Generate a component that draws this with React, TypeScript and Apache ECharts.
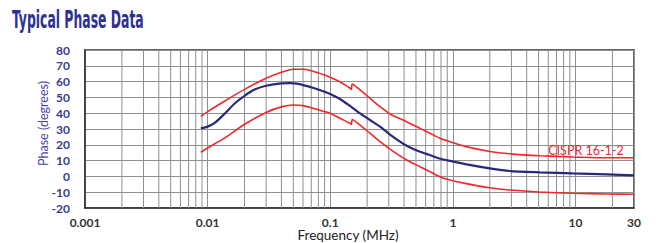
import React, { useEffect, useRef } from "react";
import * as echarts from "echarts";

// Frequencies (MHz) at which the CISPR limit curves were read
const redFreq = [0.0088, 0.01, 0.0139, 0.02, 0.03, 0.04, 0.05, 0.06, 0.07, 0.09, 0.1, 0.12, 0.145, 0.149, 0.151, 0.175, 0.211, 0.255, 0.307, 0.42, 0.54, 0.65, 0.79, 0.95, 1.26, 2.0, 2.9, 5.1, 9.5, 18, 30];
const upperLimit = [38, 41, 47.9, 55.1, 62.1, 65.9, 67.8, 67.8, 66.9, 64.2, 62.7, 59.9, 55.8, 55, 58.5, 54.7, 49.4, 44.1, 39.5, 34.6, 30.4, 27.3, 24, 22, 19, 15.8, 14.3, 13.1, 12.3, 11.8, 11.8];
const lowerLimit = [15.3, 18, 24.5, 33, 40.5, 44, 45.2, 44.8, 43.5, 41, 40, 36.8, 33.6, 33, 36, 32.5, 27.3, 22, 17.3, 10.4, 6.1, 3, -0.4, -2.3, -4.4, -7.2, -8.6, -9.9, -10.7, -11.1, -11.3];

// Typical phase curve
const phaseFreq = [0.0088, 0.01, 0.0115, 0.0139, 0.0167, 0.02, 0.0244, 0.03, 0.04, 0.047, 0.055, 0.06, 0.07, 0.09, 0.1, 0.12, 0.145, 0.175, 0.211, 0.255, 0.307, 0.42, 0.54, 0.65, 0.79, 0.95, 1.26, 2.0, 2.9, 5.1, 9.5, 18, 30];
const phaseValues = [30.4, 31.5, 34, 40, 46.3, 51, 55.1, 57.4, 58.9, 59, 58.6, 57.8, 56.4, 53.6, 52.2, 49, 44.6, 39.9, 35.7, 31.5, 26.5, 19.4, 15.6, 13.5, 11.2, 9.8, 7.8, 5.1, 3.4, 2.6, 1.9, 1.3, 0.7];

// Axis ticks
const xTickLabels = ["0.001", "0.01", "0.1", "1", "10", "30"];
const minorGridX = [0.002, 0.003, 0.004, 0.005, 0.006, 0.007, 0.008, 0.009, 0.02, 0.03, 0.04, 0.05, 0.06, 0.07, 0.08, 0.09, 0.2, 0.3, 0.4, 0.5, 0.6, 0.7, 0.8, 0.9, 2, 3, 4, 5, 6, 7, 8, 9, 20];
const yMin = -20;
const yMax = 80;

const titleText = "Typical Phase Data";
const yName = "Phase (degrees)";
const xName = "Frequency (MHz)";
const limitLabel = "CISPR 16-1-2";

const zip = (xs: number[], ys: number[]) => xs.map((x, i) => [x, ys[i]]);

export default function App() {
  const ref = useRef<HTMLDivElement>(null);
  useEffect(() => {
    if (!ref.current) return;
    const chart = echarts.init(ref.current, undefined, { renderer: "svg" });
    const gridColor = "#8f8f8f";
    const red = "#f0282a";
    chart.setOption({
      animation: false,
      backgroundColor: "#ffffff",
      grid: { left: 85, top: 50, right: 22, bottom: 35, show: true, borderColor: "#333", borderWidth: 1.5 },
      xAxis: {
        type: "log",
        logBase: 10,
        min: 0.001,
        max: 30,
        axisLine: { show: true, onZero: false, lineStyle: { color: "#333", width: 1.5 } },
        axisTick: { show: false },
        splitLine: { show: true, lineStyle: { color: gridColor, width: 1 } },
        axisLabel: {
          margin: 8,
          color: "#333",
          fontFamily: "Lato",
          fontSize: 12,
          lineHeight: 12,
          fontWeight: "bold",
          showMaxLabel: true,
          showMinLabel: true,
          formatter: (v: number) => {
            const s = String(+Number(v).toPrecision(6));
            return xTickLabels.includes(s) ? s : "";
          },
        },
      },
      yAxis: {
        type: "value",
        min: yMin,
        max: yMax,
        interval: 10,
        axisLine: { show: true, onZero: false, lineStyle: { color: "#333", width: 1.5 } },
        axisTick: { show: false },
        splitLine: { show: true, lineStyle: { color: gridColor, width: 1 } },
        axisLabel: { margin: 15, color: "#3b3b91", fontFamily: "Lato", fontSize: 12, fontWeight: "bold" },
      },
      series: [
        {
          name: "upper",
          type: "line",
          z: 3,
          smooth: 0.2,
          data: zip(redFreq, upperLimit),
          showSymbol: false,
          lineStyle: { color: red, width: 1.6 },
        },
        {
          name: "lower",
          type: "line",
          z: 3,
          smooth: 0.2,
          data: zip(redFreq, lowerLimit),
          showSymbol: false,
          lineStyle: { color: red, width: 1.6 },
        },
        {
          name: "phase",
          type: "line",
          z: 4,
          smooth: 0.2,
          data: zip(phaseFreq, phaseValues),
          showSymbol: false,
          lineStyle: { color: "#262a78", width: 2.2 },
        },
      ],
    });

    // minor (2..9) vertical grid lines, positioned through the log axis scale
    const yTop = chart.convertToPixel({ yAxisIndex: 0 }, yMax) as number;
    const yBottom = chart.convertToPixel({ yAxisIndex: 0 }, yMin) as number;
    const minorLines = minorGridX.map((f) => {
      const px = chart.convertToPixel({ xAxisIndex: 0 }, f) as number;
      return {
        type: "line",
        z: 1,
        silent: true,
        shape: { x1: px, y1: yTop, x2: px, y2: yBottom },
        style: { stroke: gridColor, lineWidth: 1 },
      };
    });

    chart.setOption({
      graphic: [
        ...minorLines,
        {
          type: "text",
          x: 12,
          y: 20.5,
          scaleX: 0.575,
          style: {
            text: titleText,
            fontFamily: "Liberation Sans Narrow, DejaVu Sans Condensed, sans-serif",
            fontWeight: "bold",
            fontSize: 24,
            fill: "#2e3192",
            textAlign: "left",
            textVerticalAlign: "middle",
          },
        },
        {
          type: "text",
          x: 43.5,
          y: 123.5,
          rotation: Math.PI / 2,
          style: {
            text: yName,
            fontFamily: "Lato",
            fontSize: 12.5,
            fill: "#4a46a8",
            textAlign: "center",
            textVerticalAlign: "middle",
          },
        },
        {
          type: "text",
          x: 348,
          y: 234.5,
          style: {
            text: xName,
            fontFamily: "Lato",
            fontSize: 13.5,
            lineHeight: 12,
            fill: "#222",
            textAlign: "center",
            textVerticalAlign: "middle",
          },
        },
        {
          type: "text",
          x: 586,
          y: 150,
          style: {
            text: limitLabel,
            fontFamily: "Lato",
            fontSize: 12.5,
            fill: red,
            textAlign: "center",
            textVerticalAlign: "middle",
          },
        },
      ],
    });
    return () => chart.dispose();
  }, []);
  return <div ref={ref} style={{ position: "fixed", left: 0, top: 0, width: 656, height: 243 }} />;
}
